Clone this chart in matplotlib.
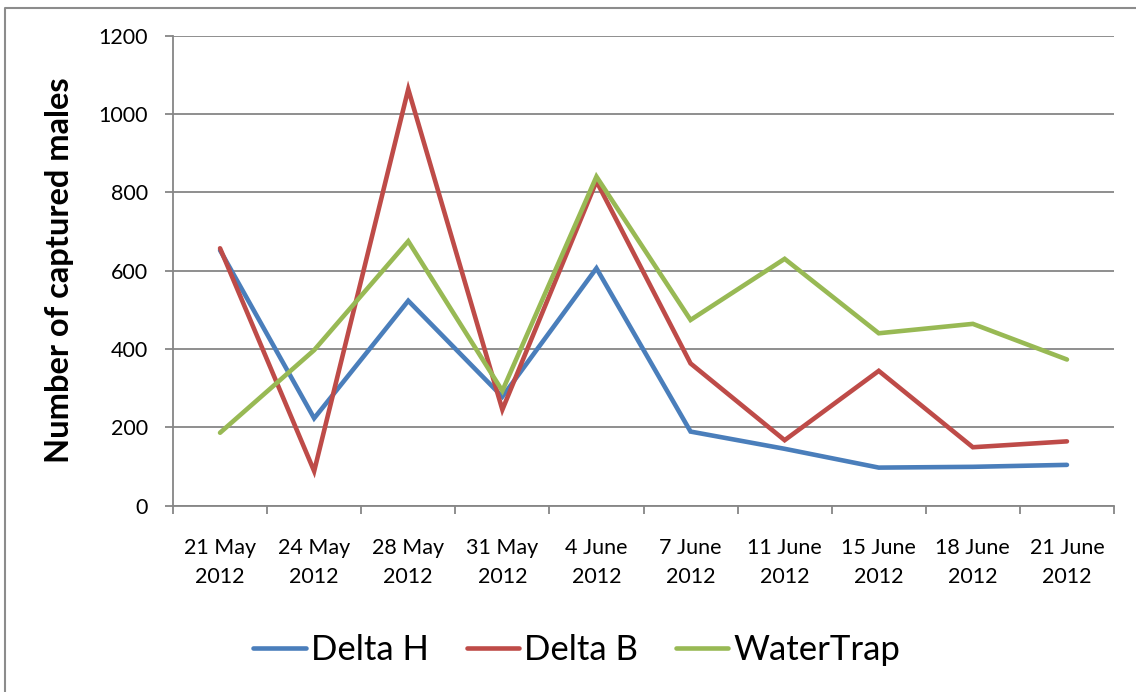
import matplotlib
matplotlib.use("Agg")
import matplotlib.pyplot as plt
from matplotlib.lines import Line2D

plt.rcParams['font.family'] = ['Lato', 'DejaVu Sans']

dates = ["21 May\n2012", "24 May\n2012", "28 May\n2012", "31 May\n2012", "4 June\n2012",
         "7 June\n2012", "11 June\n2012", "15 June\n2012", "18 June\n2012", "21 June\n2012"]
delta_h = [652, 223, 523, 278, 606, 189, 145, 97, 99, 104]
delta_b = [657, 88, 1063, 245, 828, 363, 167, 344, 149, 164]
water_trap = [186, 397, 675, 293, 840, 474, 630, 440, 464, 373]

series = [("Delta H", delta_h, "#4A7EBB"),
          ("Delta B", delta_b, "#BE4B48"),
          ("WaterTrap", water_trap, "#98B954")]

fig = plt.figure(figsize=(11.36, 6.92), dpi=100)
ax = fig.add_axes([173 / 1136, 1 - 505.6 / 692, 941 / 1136, 470 / 692])

x = list(range(len(dates)))
for name, vals, color in series:
    ax.plot(x, vals, color=color, lw=3.3, label=name,
            solid_capstyle='round', solid_joinstyle='miter')

grid_color = "#868686"
ax.set_xlim(-0.5, len(dates) - 0.5)
ax.set_ylim(0, 1200)
ax.set_yticks(range(0, 1201, 200))
ax.yaxis.grid(True, color=grid_color, lw=1.3)
ax.set_axisbelow(True)

for side in ("top", "right"):
    ax.spines[side].set_visible(False)
for side in ("left", "bottom"):
    ax.spines[side].set_color(grid_color)
    ax.spines[side].set_linewidth(1.3)

ax.tick_params(axis='y', direction='out', length=6, width=1.3, color=grid_color,
               labelsize=15.5, pad=12)
ax.set_xticks(x)
ax.set_xticklabels(dates, linespacing=1.6)
ax.set_xticks([i + 0.5 for i in range(-1, len(dates))], minor=True)
ax.tick_params(axis='x', which='major', length=0, labelsize=15.5, pad=23)
ax.tick_params(axis='x', which='minor', direction='out', length=6, width=1.3,
               color=grid_color)

fig.text(60 / 1136, 1 - 270 / 692, "Number of captured males", rotation=90,
         fontsize=23.5, fontweight='bold', ha='center', va='center')

handles = [Line2D([0], [0], color=c, lw=3.3, solid_capstyle='round') for _, _, c in series]
fig.legend(handles, [n for n, _, _ in series], loc='center',
           bbox_to_anchor=(577 / 1136, 1 - 650 / 692), ncol=3, frameon=False,
           fontsize=25, handlelength=1.5, handletextpad=0.15, columnspacing=1.1)

# outer frame (top and left edges)
fig.add_artist(Line2D([5 / 1136, 5 / 1136, 1.0], [0.0, 1 - 8 / 692, 1 - 8 / 692],
                      transform=fig.transFigure, color="#8C8C8C", lw=1.5))

fig.savefig("out.png", dpi=100, facecolor="white")
